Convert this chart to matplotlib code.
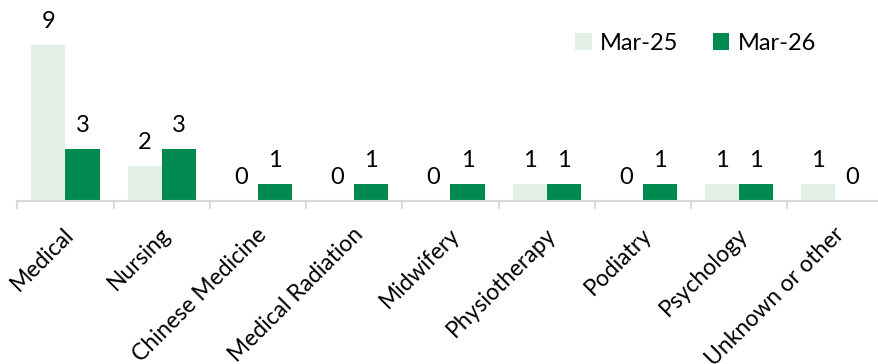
import matplotlib
matplotlib.use("Agg")
import matplotlib.pyplot as plt
import matplotlib.transforms as mtransforms
import numpy as np

categories = ["Medical", "Nursing", "Chinese Medicine", "Medical Radiation",
              "Midwifery", "Physiotherapy", "Podiatry", "Psychology",
              "Unknown or other"]
mar25 = [9, 2, 0, 0, 0, 1, 0, 1, 1]
mar26 = [3, 3, 1, 1, 1, 1, 1, 1, 0]
series_names = ["Mar-25", "Mar-26"]

light = "#E2EFE5"
dark = "#008A50"
axis_grey = "#D9D9D9"

plt.rcParams["font.family"] = ["Lato", "DejaVu Sans"]

W, H = 879, 364
fig = plt.figure(figsize=(W / 100, H / 100), dpi=100)
ax = fig.add_axes([17.3 / W, (H - 201) / H, 866.3 / W, 201 / H])

x = np.arange(len(categories))
bw = 0.355
b1 = ax.bar(x - bw / 2, mar25, bw, color=light, label=series_names[0], zorder=2)
b2 = ax.bar(x + bw / 2, mar26, bw, color=dark, label=series_names[1], zorder=2)

for bars, vals in ((b1, mar25), (b2, mar26)):
    for rect, v in zip(bars, vals):
        ax.annotate(str(v), (rect.get_x() + rect.get_width() / 2, v),
                    xytext=(0, 17), textcoords="offset pixels",
                    ha="center", va="baseline", fontsize=17, color="#000000")

ax.set_xlim(-0.5, len(categories) - 0.5)
ax.set_ylim(0, 201 / 17.33)

for s in ("top", "right", "left"):
    ax.spines[s].set_visible(False)
ax.spines["bottom"].set_color(axis_grey)
ax.spines["bottom"].set_linewidth(1.5)
ax.spines["bottom"].set_zorder(3)
ax.set_yticks([])

ax.set_xticks(np.arange(len(categories) + 1) - 0.5, minor=False)
ax.set_xticklabels([])
ax.tick_params(axis="x", which="major", length=6, width=1.5, color=axis_grey)
ax.set_xticks(x, minor=True)
ax.set_xticklabels(categories, minor=True, rotation=45, ha="right",
                   rotation_mode="anchor", fontsize=16.5)
ax.tick_params(axis="x", which="minor", length=0, pad=16.5)
shift = mtransforms.ScaledTranslation(-2 / 100, 0, fig.dpi_scale_trans)
for lbl in ax.get_xticklabels(minor=True):
    lbl.set_transform(lbl.get_transform() + shift)

leg = ax.legend(loc="upper left", bbox_to_anchor=(0.644, 0.836),
                ncol=2, frameon=False, fontsize=17, handlelength=0.7,
                handleheight=0.7, handletextpad=0.35, columnspacing=1.45,
                borderaxespad=0, borderpad=0)

fig.savefig("out.png", dpi=100)
